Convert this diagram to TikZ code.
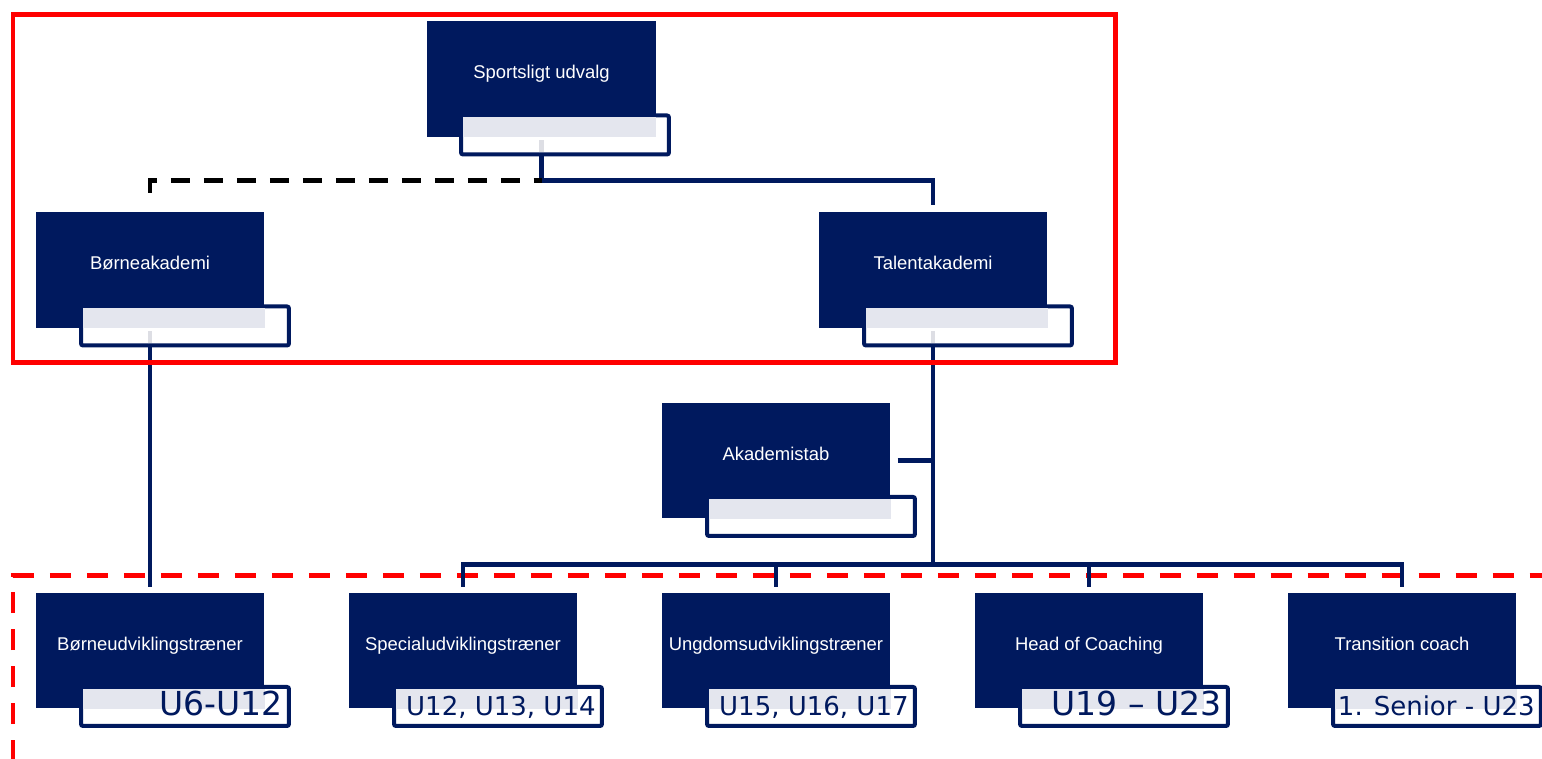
\documentclass[tikz,border=0pt]{standalone}
\usepackage{fontspec}
\setmainfont{Liberation Sans}
\newfontfamily\agefont{DejaVu Sans}
\usetikzlibrary{calc}

\definecolor{navy}{HTML}{00195E}
\definecolor{band}{HTML}{E4E6EE}
\definecolor{stubgray}{HTML}{DDDEE4}

\begin{document}
\begin{tikzpicture}[x=0.02cm, y=-0.02cm,
        darkbox/.style={fill=navy, text=white, inner sep=0pt, minimum width=4.57cm, minimum height=2.32cm,
            text height=0.3cm, text depth=0.3cm, font=\fontsize{10.5pt}{12pt}\selectfont},
        subbox/.style={draw=navy, fill=white, line width=0.08cm, rounded corners=0.04cm,
            minimum width=4.16cm, minimum height=0.78cm, inner sep=0pt},
        agebig/.style={text=navy, inner sep=0pt, font=\agefont\fontsize{18.8pt}{20pt}\selectfont},
        agesmall/.style={text=navy, inner sep=0pt, font=\agefont\fontsize{14.8pt}{16pt}\selectfont},
        conn/.style={draw=navy, line width=0.09cm},
        stub/.style={draw=stubgray, line width=0.09cm},
        redline/.style={draw=red, line width=0.1cm}]
        \useasboundingbox (0,0) rectangle (1542,759);

        % Red dashed border round the trainers
        \draw[redline, dash pattern=on 0.42cm off 0.32cm, dash phase=0.04cm] (13,759) |- (1542,576);

        % Boxes, upper part
        \foreach \n/\x/\y/\d/\t in {sport/541.5/79/0.47/Sportsligt udvalg, boern/150/270/0.7/Børneakademi,
                talent/933/270/0.7/Talentakademi, stab/776/460.5/0.7/Akademistab} {
            \node[darkbox] (\n) at (\x,\y) {\t};
            \node[subbox] (\n-sub) at ([shift={(\d cm,-1.12cm)}]\n.center) {};
            \fill[band] ([shift={(0.08cm,-0.08cm)}]\n-sub.north west) rectangle (\n.south east);
            \coordinate (\n-out) at (\n.center |- \n-sub.south);
        }

        % Boxes, trainers
        \foreach \n/\x/\t/\s/\a in {bu/150/Børneudviklingstræner/agebig/U6-U12,
                sp/463/Specialudviklingstræner/agesmall/{U12, U13, U14},
                ud/776/Ungdomsudviklingstræner/agesmall/{U15, U16, U17},
                hc/1089/Head of Coaching/agebig/U19 – U23,
                tc/1402/Transition coach/agesmall/1. Senior - U23} {
            \node[darkbox] (\n) at (\x,650.5) {\t};
            \node[subbox] (\n-sub) at ([shift={(0.7cm,-1.12cm)}]\n.center) {};
            \fill[band] ([shift={(0.08cm,-0.08cm)}]\n-sub.north west) rectangle (\n.south east);
            \node[\s, anchor=base east] (\n-age) at ([shift={(-0.16cm,-0.18cm)}]\n-sub.east) {\a};
        }

        % Stubs inside the sub boxes
        \foreach \n in {sport, boern, talent}
            \draw[stub] ([yshift=0.08cm]\n-out) -- ++(0,-12);

        % Connectors
        \draw[conn] (sport-out) -- ++(0,24) coordinate (split) -| ([yshift=0.14cm]talent.north);
        \draw[line width=0.09cm, black, dash pattern=on 0.38cm off 0.28cm, dash phase=0.38cm]
            ([yshift=0.1cm]boern.north) |- (split);
        \draw[conn] (boern-out) -- ([yshift=0.1cm]bu.north);
        \draw[conn] (talent-out) -- ++(0,217) coordinate (bus);
        \draw[conn] ([xshift=0.14cm]stab.east) -- (stab.east -| talent-out);
        \foreach \n in {sp, ud, hc, tc}
            \draw[conn] (bus) -| ([yshift=0.1cm]\n.north);

        % Red frame round the academies
        \draw[redline] (13,14.5) rectangle (1115,363);
    \end{tikzpicture}
\end{document}
